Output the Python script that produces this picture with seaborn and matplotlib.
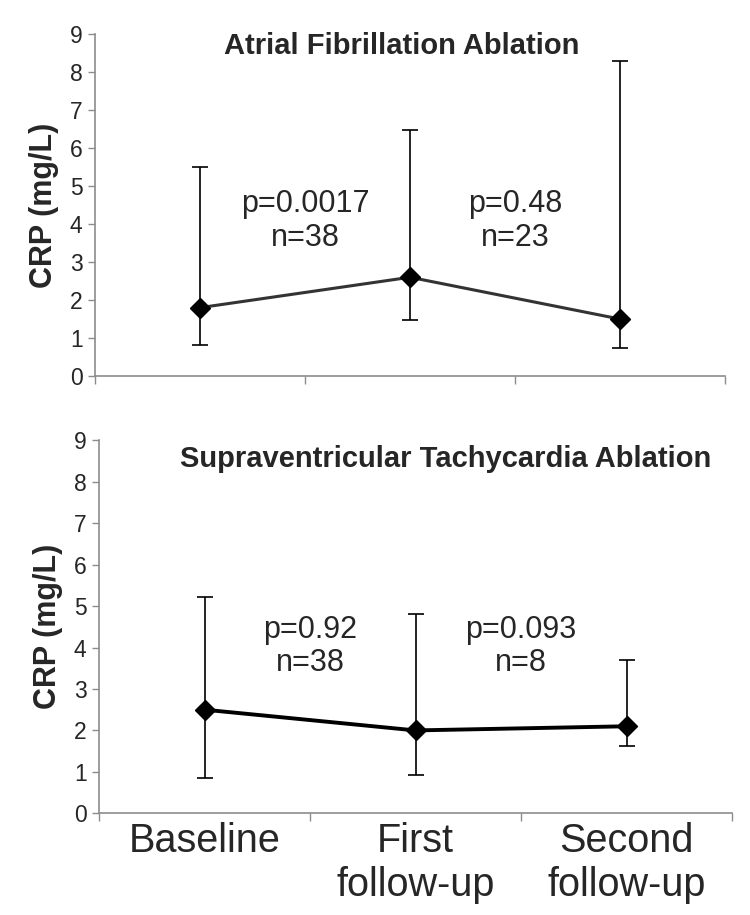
#Libraries
import numpy as np
import seaborn as sns
import matplotlib
matplotlib.use("Agg")
import matplotlib.pyplot as plt
from matplotlib.ticker import FixedLocator

#Data
categories = ["Baseline", "First\nfollow-up", "Second\nfollow-up"]

af_mean = [1.8, 2.6, 1.5]
af_low = [0.82, 1.48, 0.74]
af_high = [5.5, 6.47, 8.3]
af_pvals = ["p=0.0017\nn=38", "p=0.48\nn=23"]

svt_mean = [2.5, 2.0, 2.1]
svt_low = [0.86, 0.92, 1.62]
svt_high = [5.22, 4.8, 3.7]
svt_pvals = ["p=0.92\nn=38", "p=0.093\nn=8"]

#Style
sns.set_style("white")
plt.rcParams["font.family"] = ["Liberation Sans", "DejaVu Sans"]

fig = plt.figure(figsize=(7.5, 9.15), dpi=100)
ax1 = fig.add_axes([0.1267, 0.589, 0.84, 0.3738])
ax2 = fig.add_axes([0.132, 0.1111, 0.844, 0.4078])

def panel(ax, mean, low, high, pvals, title, title_xy, title_size, line_color, lw, text_y):
    x = np.arange(len(categories))
    sns.lineplot(x=x, y=mean, ax=ax, color=line_color, linewidth=lw, zorder=2)
    yerr = [np.array(mean) - np.array(low), np.array(high) - np.array(mean)]
    ax.errorbar(x, mean, yerr=yerr, fmt="none", ecolor="black", elinewidth=1.2,
                capsize=6, capthick=1.2, zorder=3)
    ax.plot(x, mean, linestyle="none", marker="D", markersize=10.5,
            color="black", zorder=4)

    ax.set_xlim(-0.5, 2.5)
    ax.set_ylim(0, 9)
    ax.set_yticks(range(10))
    ax.tick_params(axis="y", labelsize=16.5, length=5, width=1, color="#8c8c8c",
                   direction="out", left=True, pad=4)
    #boundary ticks like Excel, labels sit between them
    ax.xaxis.set_major_locator(FixedLocator([-0.5, 0.5, 1.5, 2.5]))
    ax.xaxis.set_minor_locator(FixedLocator(x))
    ax.tick_params(axis="x", which="major", length=6, width=1, color="#8c8c8c",
                   direction="out", bottom=True, labelbottom=False)
    ax.tick_params(axis="x", which="minor", length=0, labelsize=28.5, pad=6)

    for s in ["top", "right"]:
        ax.spines[s].set_visible(False)
    for s in ["left", "bottom"]:
        ax.spines[s].set_color("#8c8c8c")
        ax.spines[s].set_linewidth(1.2)

    ax.set_ylabel("CRP (mg/L)", fontsize=22, fontweight="bold", labelpad=8)

    for i, txt in enumerate(pvals):
        ax.text(i + 0.5, text_y, txt, ha="center", va="center", fontsize=22,
                linespacing=1.15)

    ax.text(title_xy[0], title_xy[1], title, transform=ax.transAxes, ha="center",
            va="center", fontsize=title_size, fontweight="bold")

panel(ax1, af_mean, af_low, af_high, af_pvals, "Atrial Fibrillation Ablation",
      (0.486, 0.966), 21, "#333333", 2.2, 4.08)
panel(ax2, svt_mean, svt_low, svt_high, svt_pvals,
      "Supraventricular Tachycardia Ablation", (0.547, 0.95), 21, "black", 2.8, 4.02)

ax1.set_xticklabels([], minor=True)
ax2.set_xticklabels(categories, minor=True)

fig.savefig("out.png", dpi=100)
